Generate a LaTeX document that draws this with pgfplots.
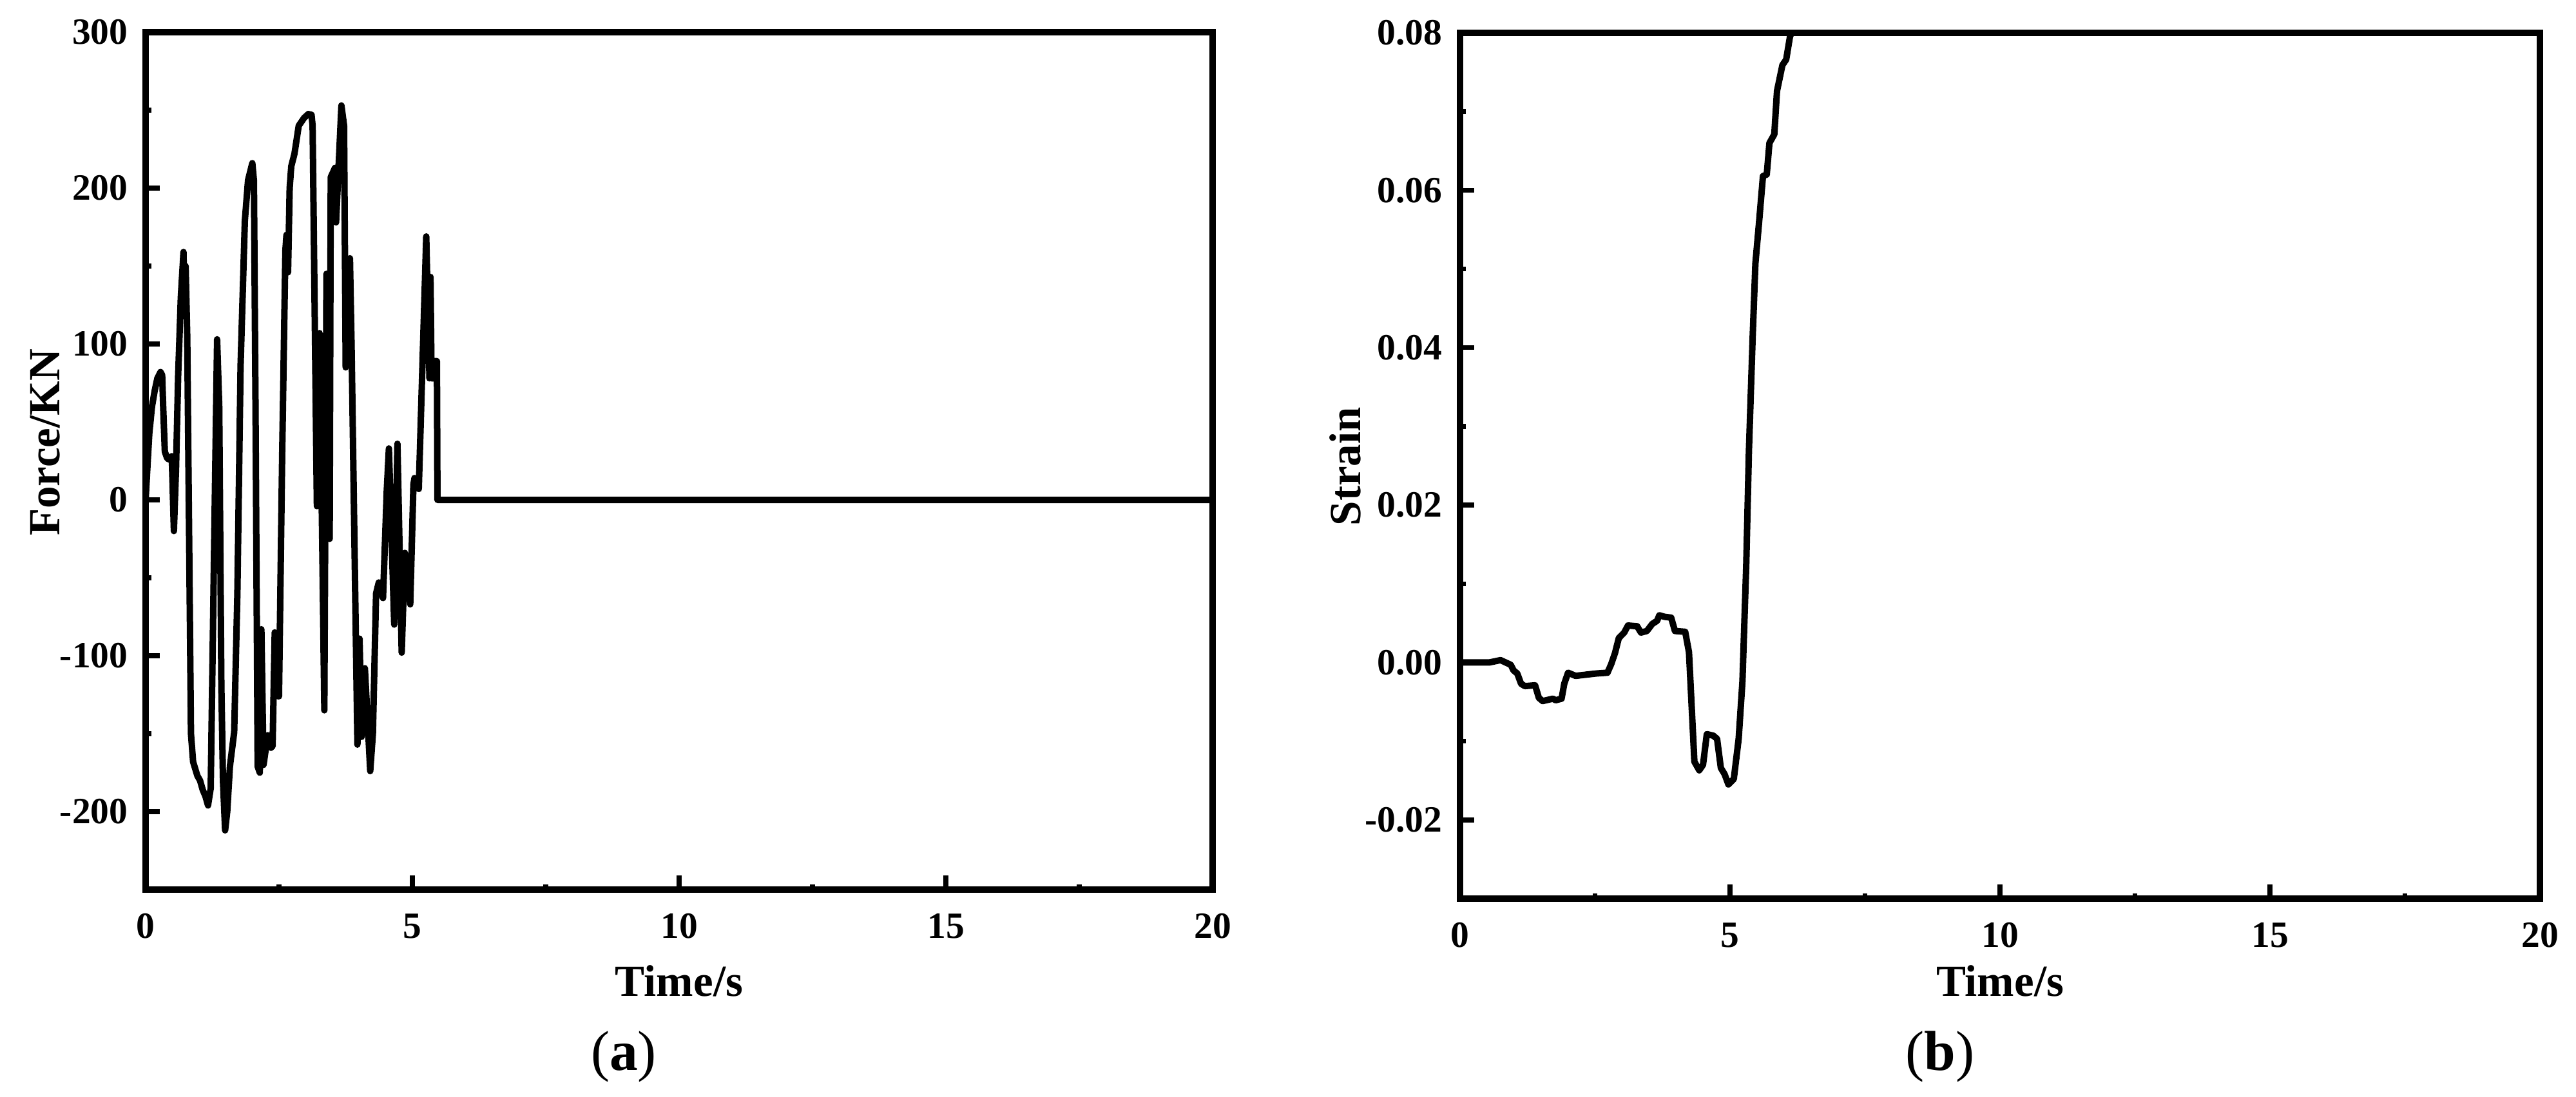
\documentclass[border=0pt]{standalone}
\usepackage{fontspec}
\setmainfont{Liberation Serif}
\usepackage{pgfplots}
\pgfplotsset{compat=1.18}
\begin{document}
\begin{tikzpicture}
\useasboundingbox (0pt,0pt) rectangle (799.6pt,340.4pt);
\pgfplotsset{
  myax/.style={
    scale only axis, anchor=south west,
    axis line style={line width=1.9pt, line join=miter},
    tick align=inside,
    xtick pos=bottom, ytick pos=left,
    major tick length=4.4pt, minor tick length=1.7pt,
    major tick style={line width=1.5pt, black},
    minor tick style={line width=1.5pt, black},
    tick label style={font=\bfseries\fontsize{11.5}{13}\selectfont},
    xticklabel style={yshift=-4pt},
    yticklabel style={xshift=-2pt},
    scaled x ticks=false, scaled y ticks=false,
    xmin=0, xmax=20,
    xtick={0,5,10,15,20},
    xticklabels={0,5,10,15,20},
    minor x tick num=1,
    minor y tick num=1,
  }
}
\begin{axis}[myax, at={(45.2pt,64.2pt)}, width=331.2pt, height=266.2pt,
  ymin=-250, ymax=300,
  ytick={-200,-100,0,100,200,300},
  yticklabels={-200,-100,0,100,200,300}]
\addplot[black, line width=2pt, line join=round] table {
0 0
0.04 25
0.07 43
0.12 60
0.17 70
0.22 78
0.28 82
0.31 80
0.33 59
0.36 31
0.40 27
0.43 26
0.49 28
0.53 -20
0.57 20
0.61 80
0.66 130
0.71 159
0.73 120
0.75 150
0.78 105
0.85 -150
0.89 -168
0.97 -177
1.02 -180
1.07 -186
1.12 -190
1.17 -196
1.22 -185
1.28 -40
1.34 103
1.38 60
1.42 -120
1.45 -180
1.49 -212
1.53 -200
1.58 -171
1.66 -149
1.72 -60
1.78 86
1.86 179
1.92 205
2.00 216
2.03 205
2.06 60
2.10 -171
2.14 -175
2.17 -83
2.21 -170
2.29 -151
2.35 -159
2.38 -158
2.42 -85
2.48 -126
2.50 -126
2.56 30
2.62 160
2.64 170
2.67 146
2.70 200
2.73 214
2.79 222
2.87 240
2.97 245
3.05 247.5
3.11 247
3.13 240
3.21 -4
3.26 107
3.35 -135
3.39 145
3.45 -25
3.47 207
3.55 213
3.57 178
3.60 201
3.67 253
3.72 240
3.75 85
3.83 155
3.86 100
3.97 -157
4.01 -89
4.05 -152
4.11 -108
4.21 -174
4.26 -150
4.32 -60
4.37 -53
4.45 -63
4.52 6
4.56 33
4.66 -80
4.72 36
4.80 -98
4.86 -34
4.96 -67
5.02 10
5.04 14
5.12 7
5.26 169
5.32 78
5.34 143
5.36 78
5.40 78
5.42 89
5.46 89
5.47 0
20 0
};
\end{axis}
\begin{axis}[myax, at={(453.2pt,61.4pt)}, width=335.2pt, height=268.8pt,
  ymin=-0.03, ymax=0.08,
  ytick={-0.02,0,0.02,0.04,0.06,0.08},
  yticklabels={-0.02,0.00,0.02,0.04,0.06,0.08}]
\addplot[black, line width=2pt, line join=round] table {
0 0
0.54 0
0.75 0.0003
0.94 -0.0003
0.99 -0.001
1.06 -0.0014
1.13 -0.0027
1.20 -0.003
1.39 -0.0029
1.46 -0.0045
1.53 -0.0049
1.72 -0.0046
1.77 -0.0048
1.88 -0.0046
1.93 -0.0027
2.00 -0.0013
2.14 -0.0017
2.52 -0.0014
2.73 -0.0013
2.80 -0.0002
2.87 0.0012
2.94 0.0031
3.04 0.0038
3.11 0.0047
3.28 0.0046
3.35 0.0038
3.46 0.004
3.56 0.0049
3.65 0.0053
3.69 0.006
3.79 0.0058
3.91 0.0057
3.98 0.004
4.17 0.0039
4.24 0.0013
4.34 -0.0126
4.43 -0.0137
4.50 -0.013
4.57 -0.0091
4.69 -0.0093
4.76 -0.0097
4.83 -0.0134
4.90 -0.0142
4.97 -0.0155
5.07 -0.0148
5.16 -0.0097
5.23 -0.0024
5.30 0.0123
5.35 0.0269
5.42 0.0415
5.47 0.0507
5.54 0.0561
5.61 0.0618
5.68 0.0620
5.73 0.066
5.82 0.0671
5.87 0.0726
5.97 0.0759
6.04 0.0766
6.11 0.0795
6.15 0.0802
6.25 0.085
};
\end{axis}
\node[rotate=90, font=\bfseries\fontsize{13.8}{15}\selectfont] at (14pt,203pt) {Force/KN};
\node[font=\bfseries\fontsize{13.8}{15}\selectfont] at (210.8pt,35.8pt) {Time/s};
\node[rotate=90, font=\bfseries\fontsize{13.8}{15}\selectfont] at (417.6pt,195.6pt) {Strain};
\node[font=\bfseries\fontsize{13.8}{15}\selectfont] at (620.8pt,35.8pt) {Time/s};
\node[font=\fontsize{17.5}{19}\selectfont] at (193.6pt,12.4pt) {(\textbf{a})};
\node[font=\fontsize{17.5}{19}\selectfont] at (602.2pt,12.4pt) {(\textbf{b})};
\end{tikzpicture}
\end{document}
